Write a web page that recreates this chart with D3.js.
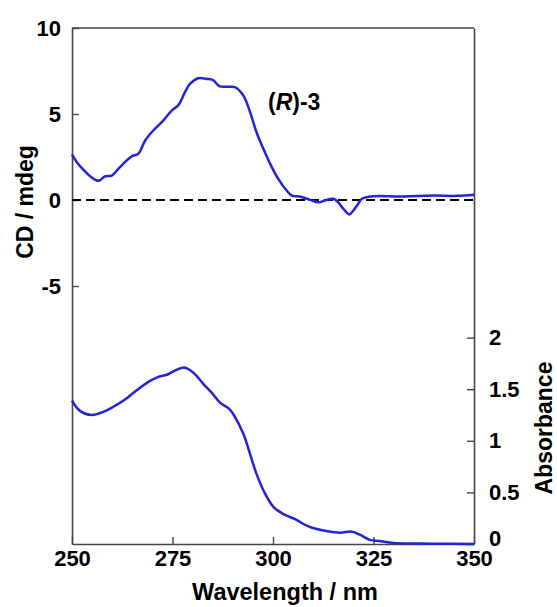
<!DOCTYPE html>
<html>
<head>
<meta charset="utf-8">
<script src="https://cdn.jsdelivr.net/npm/d3@7"></script>
<style>
  html, body { margin: 0; padding: 0; background: #fff; }
  svg { display: block; }
  text { font-family: "Liberation Sans", Arial, Helvetica, sans-serif; font-weight: bold; fill: #000; }
</style>
</head>
<body>
<svg id="chart" width="557" height="607"></svg>
<script>
// CD spectrum of (R)-3 (mdeg)
const cdWavelength = [250.0, 251.2, 252.8, 254.5, 256.0, 256.8, 258.2, 259.9, 261.9, 264.8, 266.5, 268.2,
  270.2, 272.7, 274.8, 276.5, 278.1, 279.4, 281.4, 283.5, 285.1, 286.6, 288.5, 290.5, 292.6, 294.3,
  295.9, 297.6, 299.3, 301.3, 303.4, 304.7, 306.7, 309.2, 311.3, 312.9, 315.0, 316.2, 317.5, 319.0,
  320.0, 321.2, 322.1, 325.0, 331.6, 339.9, 345.7, 350.0];
const cdValue = [2.65, 2.20, 1.77, 1.38, 1.15, 1.13, 1.37, 1.42, 1.91, 2.53, 2.69, 3.46,
  4.04, 4.62, 5.20, 5.53, 6.27, 6.76, 7.08, 7.04, 6.97, 6.62, 6.58, 6.56, 6.08, 5.11,
  3.94, 2.98, 2.10, 1.23, 0.55, 0.26, 0.20, 0.01, -0.13, -0.03, 0.07, -0.13, -0.51, -0.84,
  -0.61, -0.22, 0.07, 0.22, 0.20, 0.26, 0.24, 0.30];

// UV-Vis absorption spectrum
const absWavelength = [250.0, 252.0, 254.9, 257.8, 260.3, 263.2, 266.1, 269.4, 271.5, 273.6, 275.6,
  277.9, 280.2, 282.7, 285.1, 286.8, 289.1, 290.1, 292.6, 294.3, 295.9, 298.0, 300.1, 302.6, 305.5,
  308.8, 312.5, 316.7, 319.6, 321.6, 324.1, 326.4, 330.0, 335.0, 340.0, 350.0];
const absValue = [1.39, 1.29, 1.25, 1.28, 1.33, 1.40, 1.49, 1.58, 1.62, 1.64, 1.68,
  1.71, 1.66, 1.55, 1.45, 1.37, 1.31, 1.26, 1.07, 0.87, 0.68, 0.49, 0.36, 0.29, 0.24,
  0.17, 0.13, 0.11, 0.12, 0.09, 0.04, 0.03, 0.01, 0.005, 0.003, 0.0];

const xTicks = [250, 275, 300, 325, 350];
const cdTicks = [-5, 0, 5, 10];
const absTicks = [0, 0.5, 1, 1.5, 2];

const svg = d3.select("#chart");
const plotLeft = 72, plotRight = 474, plotTop = 28, plotBottom = 544;
const axisColor = "#454545";
const lineColor = "#2323d9";

const x = d3.scaleLinear().domain([250, 350]).range([plotLeft, plotRight]);
const yCD = d3.scaleLinear().domain([-20, 10]).range([plotBottom, plotTop]);
const yAbs = d3.scaleLinear().domain([0, 5]).range([plotBottom, plotTop]);

// plain hyphen for negative tick labels
const plainNum = d => String(d);

// frame top edge
svg.append("line")
  .attr("x1", plotLeft).attr("x2", plotRight).attr("y1", plotTop).attr("y2", plotTop)
  .attr("stroke", axisColor).attr("stroke-width", 1.6);

function styleAxis(g) {
  g.attr("font-family", null).attr("font-size", null);
  g.selectAll(".domain").attr("stroke", axisColor).attr("stroke-width", 1.6);
  g.selectAll(".tick line").attr("stroke", axisColor).attr("stroke-width", 1.4);
  g.selectAll(".tick text").attr("font-size", 22).attr("fill", "#000");
}

svg.append("g").attr("transform", `translate(0,${plotBottom})`)
  .call(d3.axisBottom(x).tickValues(xTicks).tickFormat(plainNum)
    .tickSizeInner(-7).tickSizeOuter(0).tickPadding(6))
  .call(styleAxis);

svg.append("g").attr("transform", `translate(${plotLeft},0)`)
  .call(d3.axisLeft(yCD).tickValues(cdTicks).tickFormat(plainNum)
    .tickSizeInner(-7).tickSizeOuter(0).tickPadding(11))
  .call(styleAxis);

const absAxis = svg.append("g").attr("transform", `translate(${plotRight},0)`)
  .call(d3.axisRight(yAbs).tickValues(absTicks).tickFormat(plainNum)
    .tickSizeInner(-7).tickSizeOuter(0).tickPadding(15))
  .call(styleAxis);
// lift the zero label clear of the wavelength labels below it
absAxis.selectAll(".tick text").filter(d => d === 0).attr("y", -6);

// zero line for CD
svg.append("line")
  .attr("x1", plotLeft).attr("x2", plotRight)
  .attr("y1", yCD(0)).attr("y2", yCD(0))
  .attr("stroke", "#000").attr("stroke-width", 2)
  .attr("stroke-dasharray", "9,5");

const cdLine = d3.line().x((d, i) => x(cdWavelength[i])).y(d => yCD(d)).curve(d3.curveCatmullRom.alpha(0.5));
const absLine = d3.line().x((d, i) => x(absWavelength[i])).y(d => yAbs(d)).curve(d3.curveCatmullRom.alpha(0.5));

svg.append("path").datum(cdValue).attr("d", cdLine)
  .attr("fill", "none").attr("stroke", lineColor).attr("stroke-width", 2.5)
  .attr("stroke-linejoin", "round");

svg.append("path").datum(absValue).attr("d", absLine)
  .attr("fill", "none").attr("stroke", lineColor).attr("stroke-width", 2.5)
  .attr("stroke-linejoin", "round");

// axis titles
svg.append("text").attr("x", 285).attr("y", 600)
  .attr("text-anchor", "middle").attr("font-size", 23.5).text("Wavelength / nm");

svg.append("text").attr("transform", "translate(33,202) rotate(-90)")
  .attr("text-anchor", "middle").attr("font-size", 23).text("CD / mdeg");

svg.append("text").attr("transform", "translate(552,428) rotate(-90)")
  .attr("text-anchor", "middle").attr("font-size", 23).text("Absorbance");

// compound label
const lbl = svg.append("text").attr("x", 268).attr("y", 110).attr("font-size", 23);
lbl.append("tspan").text("(");
lbl.append("tspan").attr("font-style", "italic").text("R");
lbl.append("tspan").text(")-3");
</script>
</body>
</html>
